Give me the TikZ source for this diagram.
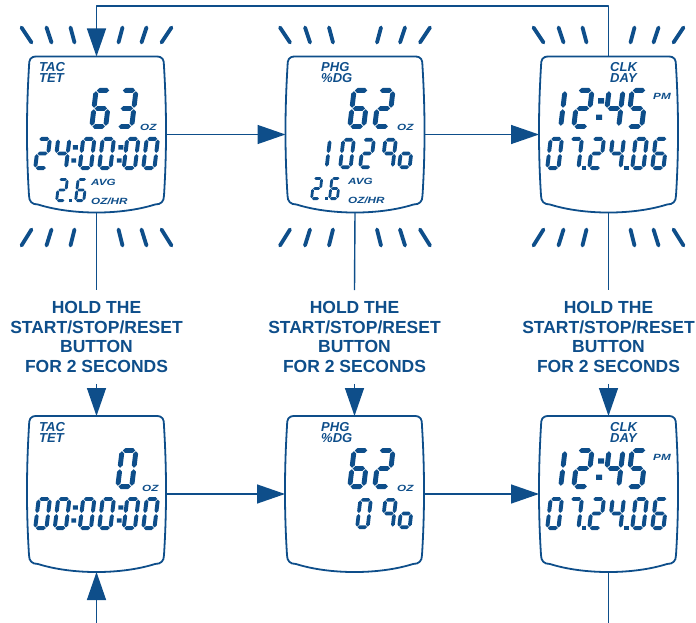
\documentclass[tikz,border=0pt]{standalone}
\usepackage{fontspec}
\setmainfont{Liberation Sans}
\newfontfamily\widefont[FakeStretch=1.3]{Liberation Sans}
\usetikzlibrary{arrows.meta}
\definecolor{lcdblue}{RGB}{14,78,138}
% seven segment cells: width 0.46, height 1
\def\lcdt{0.06}\def\lcdg{0.018}
\newcommand\lcdh[3]{\fill (#1+\lcdg,#3) -- (#1+\lcdg+\lcdt,#3+\lcdt) -- (#2-\lcdg-\lcdt,#3+\lcdt) -- (#2-\lcdg,#3) -- (#2-\lcdg-\lcdt,#3-\lcdt) -- (#1+\lcdg+\lcdt,#3-\lcdt) -- cycle;}
\newcommand\lcdv[3]{\fill (#1,#2+\lcdg) -- (#1+\lcdt,#2+\lcdg+\lcdt) -- (#1+\lcdt,#3-\lcdg-\lcdt) -- (#1,#3-\lcdg) -- (#1-\lcdt,#3-\lcdg-\lcdt) -- (#1-\lcdt,#2+\lcdg+\lcdt) -- cycle;}
\def\lcdsega{\lcdh{0.06}{0.4}{0.94}}
\def\lcdsegb{\lcdv{0.4}{0.5}{0.94}}
\def\lcdsegc{\lcdv{0.4}{0.06}{0.5}}
\def\lcdsegd{\lcdh{0.06}{0.4}{0.06}}
\def\lcdsege{\lcdv{0.06}{0.06}{0.5}}
\def\lcdsegf{\lcdv{0.06}{0.5}{0.94}}
\def\lcdsegg{\lcdh{0.06}{0.4}{0.5}}
\def\lcdsegk{\fill (0,0.22) rectangle (0.13,0.35) (0,0.62) rectangle (0.13,0.75);}
\def\lcdsegp{\fill (0,0) rectangle (0.13,0.13);}
\newcommand\lcdmap[2]{\expandafter\def\csname lcdmap#1\endcsname{#2}}
\lcdmap{0}{a,b,c,d,e,f}\lcdmap{1}{b,c}\lcdmap{2}{a,b,g,e,d}\lcdmap{3}{a,b,g,c,d}
\lcdmap{4}{f,g,b,c}\lcdmap{5}{a,f,g,c,d}\lcdmap{6}{a,f,g,e,d,c}\lcdmap{7}{a,b,c}
\lcdmap{k}{k}\lcdmap{p}{p}\lcdmap{q}{a,b,c,f,g}\lcdmap{o}{c,d,e,g}
% \lcd{x}{bottom y}{height}{digit}
\newcommand\lcd[4]{%
  \begin{scope}[shift={(#1,#2)},x={({#3pt},0pt)},y={({0.12*#3pt},{#3pt})}]
    \expandafter\let\expandafter\lcdlist\csname lcdmap#4\endcsname
    \foreach \s in \lcdlist {\csname lcdseg\s\endcsname}
  \end{scope}}
% display outline round a node
\newcommand\lcdframe[1]{%
  \draw[frame] ([shift={(10,0)}]#1.north west) -- ([shift={(-10,0)}]#1.north east)
    .. controls ([shift={(-3,0)}]#1.north east) and ([shift={(-2,3)}]#1.north east) .. ([shift={(-2,10)}]#1.north east)
    .. controls ([shift={(0.7,55)}]#1.north east) and ([shift={(0.7,-60)}]#1.south east) .. ([shift={(-2,-17)}]#1.south east)
    .. controls ([shift={(-2,-11)}]#1.south east) and ([shift={(-5,-8)}]#1.south east) .. ([shift={(-11,-8)}]#1.south east)
    .. controls ([shift={(-45,2.7)}]#1.south east) and ([shift={(45,2.7)}]#1.south west) .. ([shift={(11,-8)}]#1.south west)
    .. controls ([shift={(5,-8)}]#1.south west) and ([shift={(2,-11)}]#1.south west) .. ([shift={(2,-17)}]#1.south west)
    .. controls ([shift={(-0.7,-60)}]#1.south west) and ([shift={(-0.7,55)}]#1.north west) .. ([shift={(2,10)}]#1.north west)
    .. controls ([shift={(2,3)}]#1.north west) and ([shift={(3,0)}]#1.north west) .. ([shift={(10,0)}]#1.north west) -- cycle;}
\begin{document}
\begin{tikzpicture}[x=1pt, y=-1pt, color=lcdblue, line join=round,
    disp/.style={minimum width=139pt, minimum height=156pt, inner sep=0pt, outer sep=0pt},
    frame/.style={line width=1.8pt},
    conn/.style={line width=1.4pt},
    arr/.style={conn, -{Triangle[length=28pt,width=19pt]}},
    flash/.style={line width=3.8pt, line cap=round},
    hold/.style={font=\fontsize{17.5}{19.7}\selectfont\bfseries, align=center, inner xsep=0pt, inner ysep=11pt},
    tag/.style={font=\fontsize{13}{13}\selectfont\bfseries\itshape, inner sep=0pt, anchor=north west},
    unit/.style={font=\widefont\fontsize{9}{10}\selectfont\bfseries\itshape, inner sep=0pt, anchor=base west}]
  \useasboundingbox (0,0) rectangle (696,623);
  \node[disp] (d1) at (96.5,134.5) {};
  \node[disp] (d2) at (355,134.5) {};
  \node[disp] (d3) at (608.5,134.5) {};
  \node[disp] (d4) at (96.5,494) {};
  \node[disp] (d5) at (354.5,494) {};
  \node[disp] (d6) at (608.5,494) {};
  \foreach \n in {d1,d2,d3,d4,d5,d6} {\lcdframe{\n}}
  % flashing marks
  \foreach \n in {d1,d2,d3}
    \foreach \a/\b in {-75/-65,-50/-45,-26/-22,26/22,50/45,75/65} {
      \draw[flash] ([shift={(\a,-29)}]\n.north) -- ([shift={(\b,-14)}]\n.north);
      \draw[flash] ([shift={(\a,33)}]\n.south) -- ([shift={(\b,17)}]\n.south);
    }
  % instructions
  \node[hold] (h1) at (96.5,337) {HOLD THE\\START/STOP/RESET\\BUTTON\\FOR 2 SECONDS};
  \node[hold] (h2) at (354.5,337) {HOLD THE\\START/STOP/RESET\\BUTTON\\FOR 2 SECONDS};
  \node[hold] (h3) at (608.5,337) {HOLD THE\\START/STOP/RESET\\BUTTON\\FOR 2 SECONDS};
  % connectors
  \coordinate (topline) at (0,6);
  \coordinate (bottomline) at (0,623);
  \draw[arr] (d3.north) -- (d3.north |- topline) -| (d1.north);
  \draw[arr] (d1.east) -- (d2.west);
  \draw[arr] (d2.east) -- (d3.west);
  \draw[arr] (d4.east) -- (d5.west);
  \draw[arr] (d5.east) -- (d6.west);
  \foreach \i/\j in {1/4,2/5,3/6} {
    \draw[conn] (d\i.south) -- (h\i.north);
    \draw[arr] (h\i.south) -- (d\j.north);
  }
  \draw[arr] (d4.south |- bottomline) -- (d4.south);
  \draw[conn] (d6.south) -- (d6.south |- bottomline);
  % texts on the displays
  \foreach \n/\px/\py/\ta/\tb in {1/39/62/TAC/TET, 2/321/62/PHG/\%DG, 3/610/62/CLK/DAY,
      4/39/422/TAC/TET, 5/321/422/PHG/\%DG, 6/610/422/CLK/DAY} {
    \node[tag] (ma\n) at (\px,\py) {\ta};
    \node[tag] (mb\n) at ([yshift=-2pt]ma\n.south west) {\tb};
  }
  \node[unit] (oz1) at (140,131) {OZ};
  \node[unit] (oz2) at (397,131) {OZ};
  \node[unit] (oz4) at (142,491) {OZ};
  \node[unit] (oz5) at (397,491) {OZ};
  \node[unit] (avg1) at (91,185) {AVG};
  \node[unit] (avg2) at (348,184) {AVG};
  \node[unit] (rate1) at (91,204) {OZ/HR};
  \node[unit] (rate2) at (348,203) {OZ/HR};
  \node[unit] (pm3) at (653,100) {PM};
  \node[unit] (pm6) at (653,460) {PM};
  % digits
  \foreach \px/\dg in {89/6,115/3} {\lcd{\px}{129}{41}{\dg}}
  \foreach \px/\dg in {33/2,52.5/4,70.5/k,77.5/0,97/0,116/k,121.5/0,141/0} {\lcd{\px}{170}{33}{\dg}}
  \foreach \px/\dg in {55/2,68.5/p,74/6} {\lcd{\px}{202}{24}{\dg}}
  \foreach \px/\dg in {347/6,372/2} {\lcd{\px}{129}{41}{\dg}}
  \foreach \px/\dg in {314/1,338/0,358/2,380/q,397/o} {\lcd{\px}{169}{31}{\dg}}
  \foreach \px/\dg in {310/2,324.5/p,328/6} {\lcd{\px}{200}{23}{\dg}}
  \foreach \y/\z in {129/170,489/530} {
    \foreach \px/\dg in {544/1,571/2,595/k,602/4,625/5} {\lcd{\px}{\y}{41}{\dg}}
    \foreach \px/\dg in {545/0,565/7,581.5/p,587/2,607/4,624/p,630/0,650/6} {\lcd{\px}{\z}{33}{\dg}}
  }
  \lcd{115}{489}{41}{0}
  \foreach \px/\dg in {33/0,52.5/0,70.5/k,77.5/0,97/0,116/k,121.5/0,141/0} {\lcd{\px}{530}{33}{\dg}}
  \foreach \px/\dg in {355/0,380/q,397/o} {\lcd{\px}{529}{31}{\dg}}
  \foreach \px/\dg in {347/6,372/2} {\lcd{\px}{489}{41}{\dg}}
\end{tikzpicture}
\end{document}
